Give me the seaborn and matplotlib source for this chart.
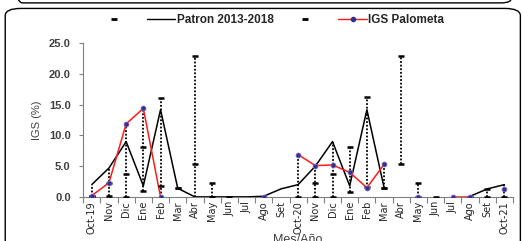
import numpy as np
import pandas as pd
import matplotlib
matplotlib.use("Agg")
import matplotlib.pyplot as plt
import seaborn as sns
from matplotlib.lines import Line2D
from matplotlib.patches import FancyBboxPatch

# --- Data ---
meses = ["Oct-19", "Nov", "Dic", "Ene", "Feb", "Mar", "Abr", "May", "Jun", "Jul",
         "Ago", "Set", "Oct-20", "Nov", "Dic", "Ene", "Feb", "Mar", "Abr", "May",
         "Jun", "Jul", "Ago", "Set", "Oct-21"]
nan = np.nan
patron = [2.0, 4.7, 9.0, 1.8, 14.2, 1.4, 0.0, 0.0, 0.0, 0.0, 0.1, 1.3,
          2.0, 5.0, 9.0, 1.8, 14.2, 1.5, nan, nan, nan, nan, 0.1, 1.3, 2.0]
palometa = [0.2, 2.3, 11.9, 14.4, 0.0, nan, nan, nan, nan, nan, 0.0, nan,
            6.9, 5.1, 5.2, 4.0, 1.5, 5.3, nan, 0.0, nan, 0.0, 0.0, nan, 1.3]
sup = [0.2, 2.2, 3.7, 8.1, 16.1, 1.4, 23.0, 2.2, nan, nan, nan, nan,
       nan, 2.2, 3.8, 8.1, 16.2, 1.5, 23.0, 2.2, nan, nan, nan, 1.3, nan]
inf = [0.1, 0.1, 0.0, 1.0, 1.7, 1.4, 5.3, 0.0, 0.0, nan, nan, nan,
       0.0, 0.0, 0.0, 0.8, 1.6, 1.5, 5.3, 0.0, 0.0, nan, 0.0, 0.0, 0.0]

def segmentos(valores):
    """Long table with a segment id so that NaN gaps stay open."""
    v = pd.Series(valores, dtype=float)
    seg = v.isna().cumsum()
    df = pd.DataFrame({"x": np.arange(len(v)), "y": v, "seg": seg})
    return df.dropna()

sns.set_theme(style="white")
plt.rcParams["font.family"] = ["Liberation Sans", "DejaVu Sans"]

fig = plt.figure(figsize=(5.23, 2.41), dpi=100)
ax = fig.add_axes([0.159, 0.183, 0.822, 0.637])

x = np.arange(len(meses))

# high-low lines across all series
todo = np.array([patron, palometa, sup, inf], dtype=float)
cnt = np.sum(~np.isnan(todo), axis=0)
lo = np.where(cnt > 0, np.nanmin(np.where(np.isnan(todo), np.inf, todo), axis=0), nan)
hi = np.where(cnt > 0, np.nanmax(np.where(np.isnan(todo), -np.inf, todo), axis=0), nan)
ok = (cnt > 1) & (hi - lo > 0.05)
ax.vlines(x[ok], lo[ok], hi[ok], colors="black", linestyles=(0, (1, 1)),
          linewidth=1.3, zorder=1)

# Patron line
sns.lineplot(data=segmentos(patron), x="x", y="y", units="seg", estimator=None,
             color="black", linewidth=1.1, ax=ax, zorder=3, legend=False)

# IGS Palometa line + markers
sns.lineplot(data=segmentos(palometa), x="x", y="y", units="seg", estimator=None,
             color="#ff1a1a", linewidth=1.1, ax=ax, zorder=4, legend=False)
dp = segmentos(palometa)
sns.scatterplot(data=dp, x="x", y="y", color="#2e3192", edgecolor="#8060b0",
                s=12, linewidth=0.6, ax=ax, zorder=6, legend=False)

# dash series
for serie in (sup, inf):
    d = segmentos(serie)
    sns.scatterplot(data=d, x="x", y="y", marker="_", color="black", s=16,
                    linewidth=1.8, ax=ax, zorder=5, legend=False)

ax.set_xlim(-0.5, len(meses) - 0.5)
ax.set_ylim(0, 25)
ax.set_yticks(np.arange(0, 26, 5))
ax.set_yticklabels([f"{v:.1f}" for v in np.arange(0, 26, 5)], fontsize=8,
                   fontweight="bold", color="#404040")
ax.set_xticks(x)
ax.set_xticklabels(meses, rotation=90, fontsize=7,
                   family=["Liberation Sans Narrow", "DejaVu Sans"])
ax.set_xticks(np.arange(-0.5, len(meses), 1), minor=True)
ax.tick_params(axis="x", which="major", length=0, pad=3)
ax.tick_params(axis="x", which="minor", length=4, color="#808080", width=0.8,
               direction="out", bottom=True)
ax.tick_params(axis="y", length=3, color="#808080", width=0.8, left=True, pad=6)
for s in ("top", "right"):
    ax.spines[s].set_visible(False)
for s in ("left", "bottom"):
    ax.spines[s].set_color("#808080")
    ax.spines[s].set_linewidth(0.8)

ax.set_ylabel("IGS (%)", fontsize=8, color="#404040", labelpad=5)
ax.set_xlabel("Mes/Año", fontsize=9, color="#404040", labelpad=0)
ax.xaxis.set_label_coords(0.5, -0.24)

handles = [
    Line2D([], [], marker="_", color="black", linestyle="none", markersize=4,
           markeredgewidth=2.0),
    Line2D([], [], color="black", linewidth=1.0),
    Line2D([], [], marker="_", color="black", linestyle="none", markersize=4,
           markeredgewidth=2.0),
    Line2D([], [], color="#ff1a1a", linewidth=1.0, marker="o", markersize=3,
           markerfacecolor="#2e3192", markeredgecolor="#2e3192"),
]
fig.legend(handles, ["", "Patron 2013-2018", "", "IGS Palometa"], ncol=4,
           loc="center", bbox_to_anchor=(0.52, 0.915), frameon=False,
           handlelength=2.4, columnspacing=1.5, handletextpad=0.1,
           prop={"weight": "bold", "size": 8.5})

# chart area frames
fig.patches.append(FancyBboxPatch((0.01, -0.2), 0.985, 1.165,
                                  boxstyle="round,pad=0,rounding_size=0.03",
                                  transform=fig.transFigure, fill=False,
                                  edgecolor="black", linewidth=1.0))
fig.patches.append(FancyBboxPatch((0.023, 0.988), 0.955, 0.3,
                                  boxstyle="round,pad=0,rounding_size=0.02",
                                  transform=fig.transFigure, fill=False,
                                  edgecolor="black", linewidth=1.0))

fig.savefig("out.png", dpi=100)
